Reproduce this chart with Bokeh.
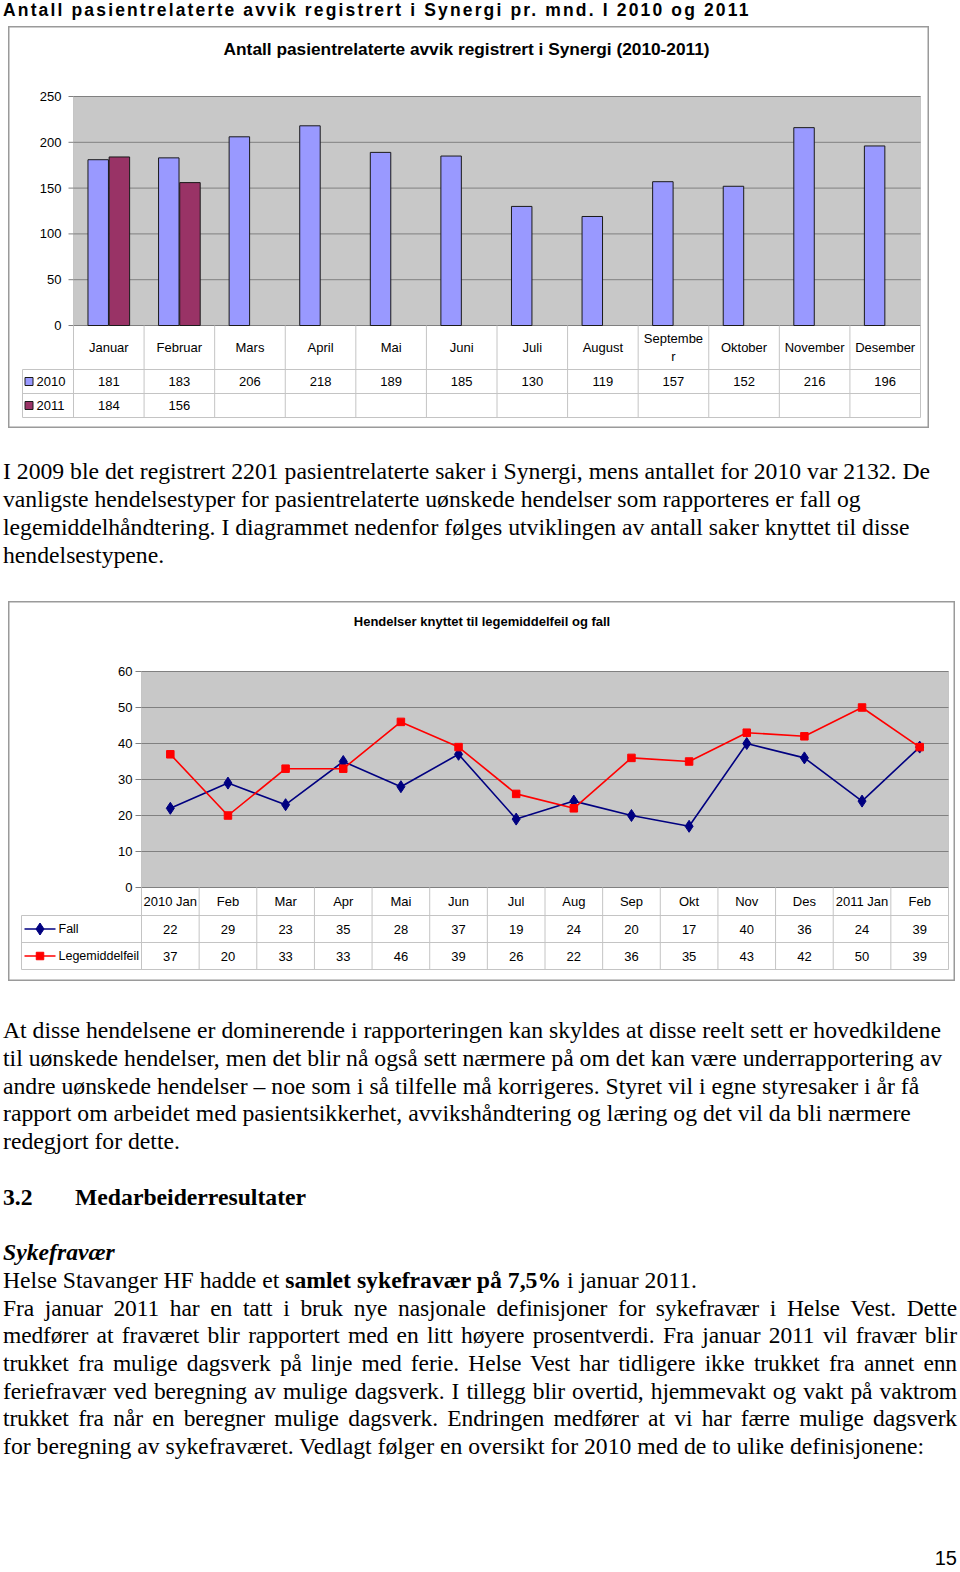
import numpy as np
from bokeh.plotting import figure
from bokeh.models import Range1d, BoxAnnotation, Div
from bokeh.layouts import column
from bokeh.embed import file_html
from bokeh.resources import INLINE
from bokeh.core.properties import value

# ---------------- data ----------------
page_title = "Antall pasientrelaterte avvik registrert i Synergi pr. mnd. I 2010 og 2011"

chart1_title = "Antall pasientrelaterte avvik  registrert i Synergi (2010-2011)"
months = ["Januar", "Februar", "Mars", "April", "Mai", "Juni", "Juli", "August",
          "Septembe\nr", "Oktober", "November", "Desember"]
series1 = ["2010", "2011"]
avvik_2010 = [181, 183, 206, 218, 189, 185, 130, 119, 157, 152, 216, 196]
avvik_2011 = [184, 156]
y1_ticks = [0, 50, 100, 150, 200, 250]

chart2_title = "Hendelser knyttet til legemiddelfeil og fall"
periods = ["2010 Jan", "Feb", "Mar", "Apr", "Mai", "Jun", "Jul", "Aug", "Sep", "Okt",
           "Nov", "Des", "2011 Jan", "Feb"]
series2 = ["Fall", "Legemiddelfeil"]
fall = [22, 29, 23, 35, 28, 37, 19, 24, 20, 17, 40, 36, 24, 39]
legemiddelfeil = [37, 20, 33, 33, 46, 39, 26, 22, 36, 35, 43, 42, 50, 39]
y2_ticks = [0, 10, 20, 30, 40, 50, 60]

# ---------------- styles ----------------
SANS = "Liberation Sans"
SERIF = "'Liberation Serif', serif"
C2010, C2011, EDGE = "#9999ff", "#993366", "#1a1a1a"
C_FALL, C_LEG = "#000080", "#ff0000"
PLOT_BG, AXIS_GRAY, TABLE_GRAY = "#c8c8c8", "#808080", "#c4c4c4"
BOX_GRAY = "#9a9a9a"


def txt(p, x, y, text, size, align="center", bold=False, **kw):
    p.text(x=x, y=y, text=text, text_font=value(SANS), text_font_size=size,
           text_align=align, text_baseline="middle", text_color="black",
           text_font_style="bold" if bold else "normal", **kw)


def boxed_figure(W, H, xr, yr):
    p = figure(width=W, height=H, x_range=xr, y_range=yr,
               x_axis_location=None, y_axis_location=None,
               output_backend="svg", toolbar_location=None, min_border=0,
               margin=(0, 0, 0, 8), background_fill_color="white",
               border_fill_color="white")
    p.outline_line_color = BOX_GRAY
    p.outline_line_width = 2
    p.grid.visible = False
    return p


# ================= chart 1 (bars + data table) =================
n1 = len(months)
xc1 = np.arange(n1) + 0.5
W1, H1 = 921, 402            # size of the bordered box (px)
L1, R1, T1 = 65, 912, 70     # plot-area edges inside the box (px)
PLOT1_PX = 229
TAB1_PX = [44, 24, 24]
LEFTCOL1_PX = 51
w1 = (R1 - L1) / n1                    # px per category
k1 = PLOT1_PX / y1_ticks[-1]           # px per value unit
edges1 = -np.cumsum([0] + TAB1_PX) / k1
x1r = Range1d(-L1 / w1, (W1 - L1) / w1)
y1r = Range1d(-(H1 - T1 - PLOT1_PX) / k1, y1_ticks[-1] + T1 / k1)

p1 = boxed_figure(W1, H1, x1r, y1r)

txt(p1, [(x1r.start + x1r.end) / 2], [y1_ticks[-1] + 48 / k1], [chart1_title], "17.3px", bold=True)

p1.add_layout(BoxAnnotation(left=0, right=n1, bottom=0, top=y1_ticks[-1], fill_color=PLOT_BG,
                            fill_alpha=1, line_color=AXIS_GRAY, line_width=1, level="image"))
p1.segment(x0=0, x1=n1, y0=y1_ticks, y1=y1_ticks, line_color=AXIS_GRAY, line_width=1)
p1.segment(x0=-5 / w1, x1=0, y0=y1_ticks, y1=y1_ticks, line_color=AXIS_GRAY, line_width=1)
txt(p1, -12 / w1, y1_ticks, [str(v) for v in y1_ticks], "13px", align="right")

p1.vbar(x=xc1 - 0.15, top=avvik_2010, width=0.29, bottom=0,
        fill_color=C2010, line_color=EDGE, line_width=1)
p1.vbar(x=xc1[:len(avvik_2011)] + 0.15, top=avvik_2011, width=0.29, bottom=0,
        fill_color=C2011, line_color=EDGE, line_width=1)

# data table
p1.segment(x0=-LEFTCOL1_PX / w1, x1=n1, y0=edges1[1:], y1=edges1[1:],
           line_color=TABLE_GRAY, line_width=1)
p1.segment(x0=np.arange(n1 + 1), x1=np.arange(n1 + 1), y0=0, y1=edges1[-1],
           line_color=TABLE_GRAY, line_width=1)
p1.segment(x0=-LEFTCOL1_PX / w1, x1=-LEFTCOL1_PX / w1, y0=edges1[1], y1=edges1[-1],
           line_color=TABLE_GRAY, line_width=1)
p1.text(x=xc1, y=(edges1[0] + edges1[1]) / 2, text=months, text_font=value(SANS),
        text_font_size="13px", text_align="center", text_baseline="middle",
        text_color="black", text_line_height=1.25)
row1 = (edges1[1:-1] + edges1[2:]) / 2
txt(p1, xc1, row1[0], [str(v) for v in avvik_2010], "13px")
txt(p1, xc1[:len(avvik_2011)], row1[1], [str(v) for v in avvik_2011], "13px")
p1.scatter(x=-44.5 / w1, y=row1, marker="square", size=8,
           fill_color=[C2010, C2011], line_color=EDGE)
txt(p1, -37 / w1, row1, series1, "13px", align="left")

# ================= chart 2 (lines + data table) =================
n2 = len(periods)
xc2 = np.arange(n2) + 0.5
W2, H2 = 947, 380
L2, R2, T2 = 133, 940, 70
PLOT2_PX = 216
TAB2_PX = [28, 27, 27]
LEFTCOL2_PX = 120
w2 = (R2 - L2) / n2
k2 = PLOT2_PX / y2_ticks[-1]
edges2 = -np.cumsum([0] + TAB2_PX) / k2
x2r = Range1d(-L2 / w2, (W2 - L2) / w2)
y2r = Range1d(-(H2 - T2 - PLOT2_PX) / k2, y2_ticks[-1] + T2 / k2)

p2 = boxed_figure(W2, H2, x2r, y2r)

txt(p2, [(x2r.start + x2r.end) / 2], [y2_ticks[-1] + 50 / k2], [chart2_title], "13px", bold=True)

p2.add_layout(BoxAnnotation(left=0, right=n2, bottom=0, top=y2_ticks[-1], fill_color=PLOT_BG,
                            fill_alpha=1, line_color=AXIS_GRAY, line_width=1, level="image"))
p2.segment(x0=0, x1=n2, y0=y2_ticks, y1=y2_ticks, line_color=AXIS_GRAY, line_width=1)
p2.segment(x0=-6 / w2, x1=0, y0=y2_ticks, y1=y2_ticks, line_color=AXIS_GRAY, line_width=1)
txt(p2, -9 / w2, y2_ticks, [str(v) for v in y2_ticks], "13px", align="right")

p2.line(x=xc2, y=fall, line_color=C_FALL, line_width=1.6)
p2.scatter(x=xc2, y=fall, marker="diamond", size=12, fill_color=C_FALL, line_color=C_FALL)
p2.line(x=xc2, y=legemiddelfeil, line_color=C_LEG, line_width=1.6)
p2.scatter(x=xc2, y=legemiddelfeil, marker="square", size=7.5, fill_color=C_LEG, line_color=C_LEG)

p2.segment(x0=-LEFTCOL2_PX / w2, x1=n2, y0=edges2[1:], y1=edges2[1:],
           line_color=TABLE_GRAY, line_width=1)
p2.segment(x0=np.arange(n2 + 1), x1=np.arange(n2 + 1), y0=0, y1=edges2[-1],
           line_color=TABLE_GRAY, line_width=1)
p2.segment(x0=-LEFTCOL2_PX / w2, x1=-LEFTCOL2_PX / w2, y0=edges2[1], y1=edges2[-1],
           line_color=TABLE_GRAY, line_width=1)
txt(p2, xc2, (edges2[0] + edges2[1]) / 2, periods, "13px")
row2 = (edges2[1:-1] + edges2[2:]) / 2
txt(p2, xc2, row2[0], [str(v) for v in fall], "13px")
txt(p2, xc2, row2[1], [str(v) for v in legemiddelfeil], "13px")
# row keys (line + marker) in the table's left column
p2.segment(x0=-117 / w2, x1=-86 / w2, y0=row2, y1=row2, line_color=[C_FALL, C_LEG], line_width=1.6)
p2.scatter(x=-101.5 / w2, y=row2[:1], marker="diamond", size=12, fill_color=C_FALL, line_color=C_FALL)
p2.scatter(x=-101.5 / w2, y=row2[1:], marker="square", size=7.5, fill_color=C_LEG, line_color=C_LEG)
txt(p2, -83 / w2, row2, series2, "12.5px", align="left")


# ================= text blocks =================
def line_html(top, html, extra=""):
    return (f'<div style="position:absolute;left:3px;top:{top}px;width:954px;height:28px;'
            f'line-height:28px;white-space:nowrap;{extra}">{html}</div>')


def block(lines, height):
    inner = "".join(line_html(*ln) for ln in lines)
    html = (f'<div style="position:relative;width:960px;height:{height}px;overflow:hidden;'
            f'font-family:{SERIF};font-size:23.7px;color:#000;">{inner}</div>')
    return Div(text=html, width=960, height=height, margin=0)


title_div = Div(text=(f'<div style="padding-left:3px;font-family:\'Liberation Sans\',sans-serif;'
                      f'font-weight:bold;font-size:17.5px;letter-spacing:2.15px;line-height:20px;'
                      f'white-space:nowrap;color:#000;">{page_title}</div>'),
                width=960, height=26, margin=0)

para1 = [
    "I 2009 ble det registrert 2201 pasientrelaterte saker i Synergi, mens antallet for 2010 var 2132. De",
    "vanligste hendelsestyper for pasientrelaterte uønskede hendelser som rapporteres er fall og",
    "legemiddelhåndtering. I diagrammet nedenfor følges utviklingen av antall saker knyttet til disse",
    "hendelsestypene.",
]
div1 = block([(t, s) for t, s in zip([29, 57, 85, 113], para1)], 173)

para2 = [
    "At disse hendelsene er dominerende i rapporteringen kan skyldes at disse reelt sett er hovedkildene",
    "til uønskede hendelser, men det blir nå også sett nærmere på om det kan være underrapportering av",
    "andre uønskede hendelser – noe som i så tilfelle må korrigeres. Styret vil i egne styresaker i år få",
    "rapport om arbeidet med pasientsikkerhet, avvikshåndtering og læring og det vil da bli nærmere",
    "redegjort for dette.",
]
para3 = [
    "Fra januar 2011 har en tatt i bruk nye nasjonale definisjoner for sykefravær i Helse Vest. Dette",
    "medfører at fraværet blir rapportert med en litt høyere prosentverdi. Fra januar 2011 vil fravær blir",
    "trukket fra mulige dagsverk på linje med ferie. Helse Vest har tidligere ikke trukket fra annet enn",
    "feriefravær ved beregning av mulige dagsverk. I tillegg blir overtid, hjemmevakt og vakt på vaktrom",
    "trukket fra når en beregner mulige dagsverk. Endringen medfører at vi har færre mulige dagsverk",
    "for beregning av sykefraværet. Vedlagt følger en oversikt for 2010 med de to ulike definisjonene:",
]
JUST = "text-align:justify;text-align-last:justify;font-size:23.5px;letter-spacing:-0.12px;"
rest_lines = [(t, s) for t, s in zip([35, 63, 91, 118, 146], para2)]
rest_lines.append((202, '<span style="font-weight:bold;">3.2</span>'
                        '<span style="position:absolute;left:72px;font-weight:bold;">Medarbeiderresultater</span>'))
rest_lines.append((257, '<span style="font-weight:bold;font-style:italic;">Sykefravær</span>'))
rest_lines.append((285, 'Helse Stavanger HF hadde et <b>samlet sykefravær på 7,5%</b> i januar 2011.'))
for i, (t, s) in enumerate(zip([313, 340, 368, 396, 423, 451], para3)):
    rest_lines.append((t, s, JUST if i < len(para3) - 1 else ""))
rest_lines.append((567, '<div style="font-family:\'Liberation Sans\',sans-serif;font-size:20px;'
                        'line-height:20px;text-align:right;width:954px;">15</div>'))
div2 = block(rest_lines, 589)

layout = column(title_div, p1, div1, p2, div2, spacing=0, margin=0)

open("out.html", "w", encoding="utf-8").write(file_html(layout, INLINE))
